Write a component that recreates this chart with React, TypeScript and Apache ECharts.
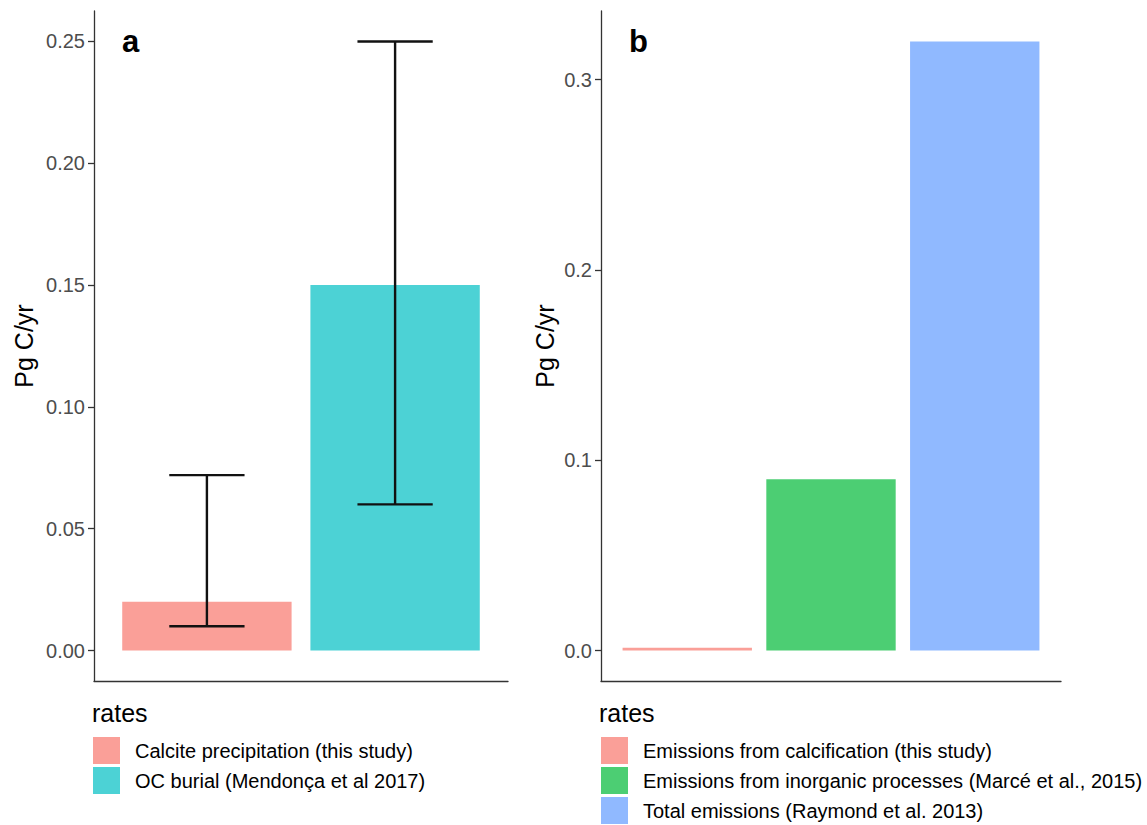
import React, { useEffect, useRef } from "react";
import * as echarts from "echarts";

// Panel a: carbon sinks
const ratesA = ["Calcite precipitation (this study)", "OC burial (Mendonça et al 2017)"];
const valuesA = [0.02, 0.15];
const lowerA = [0.01, 0.06];
const upperA = [0.072, 0.25];
const ticksA = [0, 0.05, 0.1, 0.15, 0.2, 0.25];

// Panel b: emissions
const ratesB = [
  "Emissions from calcification (this study)",
  "Emissions from inorganic processes (Marcé et al., 2015)",
  "Total emissions (Raymond et al. 2013)",
];
const valuesB = [0.0015, 0.09, 0.32];
const ticksB = [0, 0.1, 0.2, 0.3];

// ggplot-style hues at 70% opacity over white
const paletteA = ["#FA9F98", "#4CD2D5"];
const paletteB = ["#FA9F98", "#4CCE73", "#90B9FF"];

const FONT = "'Liberation Sans', Arial, sans-serif";
const W = 1147;
const H = 825;

// plot areas
const gridA = { left: 94, top: 11, width: 414, height: 670 };
const gridB = { left: 601, top: 11, width: 460, height: 670 };
const xMinA = 0.4, xMaxA = 2.6;
const xMinB = 0.4, xMaxB = 3.6;
const barWidthA = (0.9 * gridA.width) / (xMaxA - xMinA);
const barWidthB = (0.9 * gridB.width) / (xMaxB - xMinB);
const ERR_WIDTH = 0.4;

function yAxisCommon(ticks: number[], digits: number, nameGap: number, min: number, max: number, idx: number) {
  return {
    type: "value",
    gridIndex: idx,
    min,
    max,
    name: "Pg C/yr",
    nameLocation: "middle",
    nameGap,
    nameRotate: 90,
    nameTextStyle: { fontFamily: FONT, fontSize: 25, color: "#000" },
    axisLine: { show: true, lineStyle: { color: "#333", width: 1.3 } },
    axisTick: { show: true, length: 6, customValues: ticks, lineStyle: { color: "#333", width: 1.3 } },
    axisLabel: {
      customValues: ticks,
      margin: 9,
      fontFamily: FONT,
      fontSize: 20,
      color: "#4D4D4D",
      formatter: (v: number) => v.toFixed(digits),
    },
    splitLine: { show: false },
  };
}

function xAxisCommon(min: number, max: number, idx: number) {
  return {
    type: "value",
    gridIndex: idx,
    min,
    max,
    axisLine: { show: true, onZero: false, lineStyle: { color: "#333", width: 1.3 } },
    axisTick: { show: false },
    axisLabel: { show: false },
    splitLine: { show: false },
  };
}

export default function App() {
  const ref = useRef<HTMLDivElement>(null);

  useEffect(() => {
    document.body.style.margin = "0";
    if (!ref.current) return;
    const chart = echarts.init(ref.current, undefined, { renderer: "svg" });

    const barsA = ratesA.map((name, i) => ({
      type: "bar",
      name,
      xAxisIndex: 0,
      yAxisIndex: 0,
      data: [[i + 1, valuesA[i]]],
      barWidth: barWidthA,
      barGap: "-100%",
      itemStyle: { color: paletteA[i] },
      z: 2,
    }));
    const barsB = ratesB.map((name, i) => ({
      type: "bar",
      name,
      xAxisIndex: 1,
      yAxisIndex: 1,
      data: [[i + 1, valuesB[i]]],
      barWidth: barWidthB,
      barGap: "-100%",
      itemStyle: { color: paletteB[i] },
      z: 2,
    }));

    const errorBars = {
      type: "custom",
      name: "error",
      xAxisIndex: 0,
      yAxisIndex: 0,
      z: 5,
      data: valuesA.map((_, i) => [i + 1, lowerA[i], upperA[i]]),
      encode: { x: 0, y: [1, 2] },
      renderItem: (_params: any, api: any) => {
        const x = api.value(0);
        const lo = api.coord([x, api.value(1)]);
        const hi = api.coord([x, api.value(2)]);
        const half = api.size([ERR_WIDTH, 0])[0] / 2;
        const style = { stroke: "#111", lineWidth: 2.4 };
        return {
          type: "group",
          children: [
            { type: "line", shape: { x1: lo[0], y1: lo[1], x2: hi[0], y2: hi[1] }, style },
            { type: "line", shape: { x1: hi[0] - half, y1: hi[1], x2: hi[0] + half, y2: hi[1] }, style },
            { type: "line", shape: { x1: lo[0] - half, y1: lo[1], x2: lo[0] + half, y2: lo[1] }, style },
          ],
        };
      },
    };

    const legendCommon = {
      orient: "vertical",
      padding: 0,
      itemWidth: 27,
      itemHeight: 27,
      itemGap: 3,
      icon: "rect",
      selectedMode: false,
      textStyle: { fontFamily: FONT, fontSize: 20, color: "#000", padding: [0, 0, 0, 10] },
    };

    chart.setOption({
      animation: false,
      backgroundColor: "#fff",
      grid: [
        { ...gridA, containLabel: false, outerBoundsMode: "none" },
        { ...gridB, containLabel: false, outerBoundsMode: "none" },
      ],
      xAxis: [xAxisCommon(xMinA, xMaxA, 0), xAxisCommon(xMinB, xMaxB, 1)],
      yAxis: [
        yAxisCommon(ticksA, 2, 58, -0.0125, 0.2625, 0),
        yAxisCommon(ticksB, 1, 44, -0.016, 0.336, 1),
      ],
      legend: [
        { ...legendCommon, left: 93, top: 737, data: ratesA },
        { ...legendCommon, left: 601, top: 737, data: ratesB },
      ],
      graphic: [
        { type: "text", x: 122, y: 41, style: { text: "a", font: `bold 31px ${FONT}`, fill: "#000", verticalAlign: "middle" } },
        { type: "text", x: 629, y: 41, style: { text: "b", font: `bold 31px ${FONT}`, fill: "#000", verticalAlign: "middle" } },
        { type: "text", x: 92, y: 713, style: { text: "rates", font: `25px ${FONT}`, fill: "#000", verticalAlign: "middle" } },
        { type: "text", x: 599, y: 713, style: { text: "rates", font: `25px ${FONT}`, fill: "#000", verticalAlign: "middle" } },
      ],
      series: [...barsA, ...barsB, errorBars],
    });

    return () => chart.dispose();
  }, []);

  return <div ref={ref} style={{ width: W, height: H }} />;
}
